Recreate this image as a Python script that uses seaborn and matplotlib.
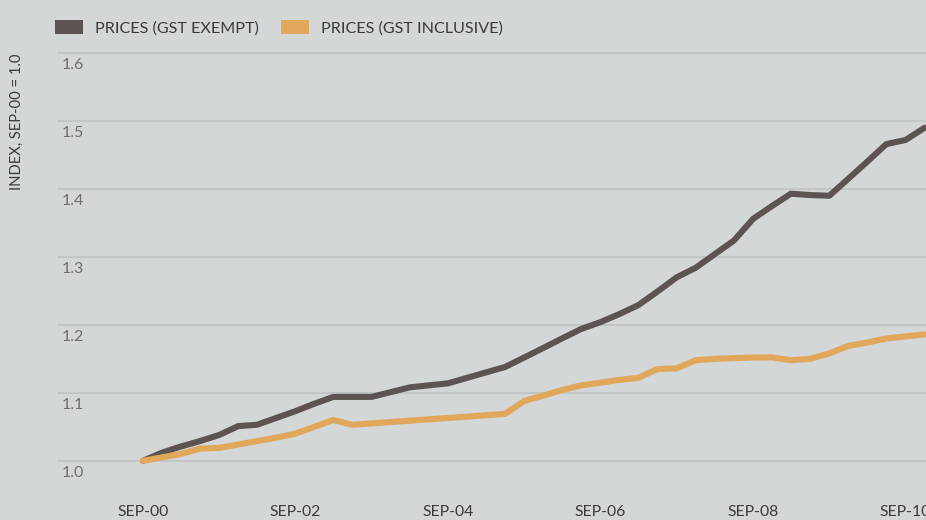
import matplotlib
matplotlib.use("Agg")
import matplotlib.pyplot as plt
import matplotlib.transforms as mtransforms
from matplotlib.patches import Patch
import pandas as pd
import seaborn as sns

# quarterly index, Sep-00 = 1.0
QUARTERS = pd.date_range("2000-09-01", periods=42, freq="3MS")
GST_EXEMPT = [
    1.000, 1.012, 1.021, 1.029, 1.038, 1.051, 1.053, 1.063, 1.073, 1.084,
    1.094, 1.094, 1.094, 1.101, 1.108, 1.111, 1.114, 1.122, 1.130, 1.138,
    1.152, 1.166, 1.180, 1.194, 1.204, 1.216, 1.229, 1.249, 1.270, 1.284,
    1.304, 1.324, 1.356, 1.375, 1.393, 1.391, 1.390, 1.415, 1.440, 1.466,
    1.472, 1.490,
]
GST_INCLUSIVE = [
    1.000, 1.005, 1.010, 1.018, 1.019, 1.024, 1.029, 1.034, 1.040, 1.050,
    1.060, 1.053, 1.055, 1.057, 1.059, 1.061, 1.063, 1.065, 1.067, 1.069,
    1.088, 1.096, 1.104, 1.111, 1.115, 1.119, 1.122, 1.135, 1.136, 1.148,
    1.150, 1.151, 1.152, 1.152, 1.148, 1.150, 1.158, 1.169, 1.174, 1.180,
    1.183, 1.186,
]
SERIES = ["PRICES (GST EXEMPT)", "PRICES (GST INCLUSIVE)"]
COLOURS = ["#5c5453", "#e1a75b"]
X_TICKS = pd.to_datetime(["2000-09-01", "2002-09-01", "2004-09-01",
                          "2006-09-01", "2008-09-01", "2010-09-01"])
X_LABELS = ["SEP-00", "SEP-02", "SEP-04", "SEP-06", "SEP-08", "SEP-10"]
Y_TICKS = [1.0, 1.1, 1.2, 1.3, 1.4, 1.5, 1.6]
Y_LABELS = ["1.0", "1.1", "1.2", "1.3", "1.4", "1.5", "1.6"]

BG = "#d3d7d8"
GRID = "#c2c6c7"
TEXT = "#3a3a3a"


def main():
    sns.set_theme(style="white")
    plt.rcParams["font.family"] = ["Lato", "DejaVu Sans"]

    df = pd.concat([
        pd.DataFrame({"date": QUARTERS, "value": GST_EXEMPT, "series": SERIES[0]}),
        pd.DataFrame({"date": QUARTERS, "value": GST_INCLUSIVE, "series": SERIES[1]}),
    ])

    fig = plt.figure(figsize=(9.26, 5.2), dpi=100, facecolor=BG)
    ax = fig.add_axes([57 / 926, 30 / 520, 1 - 57 / 926, 438 / 520])
    ax.set_facecolor(BG)

    sns.lineplot(data=df, x="date", y="value", hue="series",
                 palette=dict(zip(SERIES, COLOURS)), linewidth=4.4,
                 legend=False, ax=ax)

    ax.set_xlim(QUARTERS[0] - pd.Timedelta(days=412),
                QUARTERS[-1] + pd.Timedelta(days=7))
    ax.set_ylim(0.957, 1.6015)

    ax.set_yticks(Y_TICKS)
    ax.set_yticklabels(Y_LABELS)
    ax.set_xticks(X_TICKS)
    ax.set_xticklabels(X_LABELS)
    ax.tick_params(axis="x", length=0, pad=11, labelsize=11.3, labelcolor=TEXT)
    ax.tick_params(axis="y", length=0, pad=0, labelsize=11.5, labelcolor="#6e6e6e")

    shift = mtransforms.ScaledTranslation(0.05, -0.05, fig.dpi_scale_trans)
    for lab in ax.get_yticklabels():
        lab.set_horizontalalignment("left")
        lab.set_verticalalignment("top")
        lab.set_transform(lab.get_transform() + shift)

    ax.grid(axis="y", color=GRID, linewidth=1.5)
    ax.grid(axis="x", visible=False)
    ax.set_axisbelow(True)
    for s in ax.spines.values():
        s.set_visible(False)

    ax.set_xlabel("")
    ax.set_ylabel("")
    fig.text(17 / 926, 1 - 122 / 520, "INDEX, SEP-00 = 1.0", rotation=90,
             ha="center", va="center", fontsize=10.6, color=TEXT)

    handles = [Patch(facecolor=c, edgecolor="none") for c in COLOURS]
    fig.legend(handles, SERIES, loc="upper left",
               bbox_to_anchor=(40 / 926, 1 - 6 / 520), ncol=2, frameon=False,
               fontsize=11.6, labelcolor=TEXT, handlelength=1.75,
               handleheight=0.95, handletextpad=0.75, columnspacing=1.4)

    fig.savefig("out.png", dpi=100, facecolor=BG)


if __name__ == "__main__":
    main()
